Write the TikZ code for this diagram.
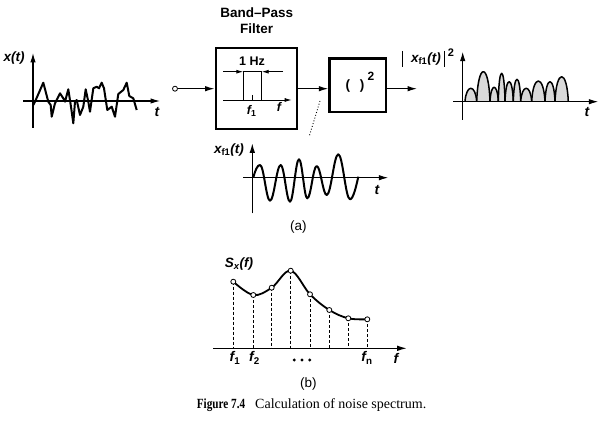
\documentclass[tikz,border=0pt]{standalone}
\usepackage{fontspec}
\usepackage{graphicx}
\setmainfont{Liberation Serif}
\newfontfamily\labfont{Liberation Sans}
\usetikzlibrary{arrows.meta}
\newcommand\mysub[1]{\textsubscript{\upshape #1}}
\begin{document}
\begin{tikzpicture}[x=1pt,y=-1pt,
  axis/.style={line width=1.1pt,-{Latex[length=9.5pt,width=5.5pt]}},
  sig/.style={line width=1.1pt,-{Latex[length=9.5pt,width=5.5pt]}},
  thinline/.style={line width=0.9pt},
  dimarrow/.style={line width=0.9pt,-{Latex[length=7pt,width=4pt]}},
  wave/.style={line width=2pt,line join=round},
  hump/.style={line width=1.5pt,fill=gray!30,line join=round},
  blk/.style={draw,line width=2.6pt,inner sep=0pt},
  lbl/.style={font=\labfont\bfseries\itshape\fontsize{13.5}{15}\selectfont,inner sep=0pt},
  ax/.style={font=\labfont\bfseries\itshape\fontsize{14}{16}\selectfont,inner sep=0pt},
  head/.style={font=\labfont\bfseries\fontsize{13.5}{16}\selectfont,inner sep=0pt,align=center},
  plainlab/.style={font=\labfont\fontsize{13.5}{16}\selectfont,inner sep=0pt},
  ptnode/.style={circle,draw,fill=white,line width=0.8pt,inner sep=0pt,minimum size=5pt},
  vdash/.style={line width=0.8pt,densely dashed},
  port/.style={circle,draw,line width=0.8pt,inner sep=0pt,minimum size=5pt}
]
\useasboundingbox (0,0) rectangle (600,422);

% ---------- panel x(t)
\coordinate (xa1) at (33,128); \coordinate (xa2) at (33,53);
\coordinate (xh1) at (23,101); \coordinate (xh2) at (160,101);
\draw[axis] (xa1) -- (xa2);
\draw[axis] (xh1) -- (xh2);
\node[lbl] (xlab) at (14,58) {x(t)};
\node[ax] (xt) at (157,112) {t};
\draw[wave] (33.3,105) -- (35,101.7) -- (43.3,82.7) -- (48.3,101.7) -- (50.7,105) -- (51.7,116.7)
 -- (55,103.3) -- (60,93.3) -- (63.3,98.3) -- (65,101.7) -- (68.3,89.3) -- (71,106.7) -- (73.3,123.3)
 -- (75,101.7) -- (76.7,100) -- (80,115) -- (83.3,106.7) -- (85.7,89.3) -- (88.3,101.7) -- (90,111.7)
 -- (93.3,88.3) -- (96.7,86.7) -- (99,88.3) -- (101.7,82.7) -- (104,88.3) -- (107.3,110) -- (111.7,106.7)
 -- (115,116.7) -- (118.3,94) -- (123.3,90) -- (126.7,82.7) -- (129.3,96) -- (133.3,98.3) -- (136.7,110);

% ---------- band-pass filter
\node[head] (bplab) at (256.7,21) {Band–Pass\\Filter};
\node[blk,minimum width=81pt,minimum height=81pt] (bpf) at (256.3,88.7) {};
\node[port] (in) at (175,88.7) {};
\draw[sig] (in) -- (bpf.west);
\node[head,font=\labfont\bfseries\fontsize{12.5}{14}\selectfont] (hz) at (252,61) {1 Hz};
\draw[dimarrow] (223.3,71.7) -- (243.3,71.7);
\draw[dimarrow] (283,71.7) -- (261.7,71.7);
\draw[thinline] (243.3,100) -- (243.3,71.7) -- (261.7,71.7) -- (261.7,100);
\draw[thinline] (252.3,95) -- (252.3,100);
\draw[dimarrow] (223.3,100) -- (291.7,100);
\node[ax,font=\labfont\bfseries\itshape\fontsize{12.5}{14}\selectfont] (f1in) at (251.7,111) {f\mysub{1}};
\node[ax,font=\labfont\bfseries\itshape\fontsize{12.5}{14}\selectfont] (fin) at (279,107) {f};

% ---------- squarer
\node[blk,minimum width=56.5pt,minimum height=53.5pt] (sq) at (357.8,85.3) {};
\node[head] (par) at (355,86) {(\ \ \,)};
\node[head,font=\labfont\bfseries\fontsize{12}{14}\selectfont] (sq2) at (371,76) {2};
\draw[sig] (bpf.east) -- (bpf.east -| sq.west);
\coordinate (out) at (417,88.7);
\draw[sig] (out -| sq.east) -- (out);
\coordinate (dot1) at (320,101); \coordinate (dot2) at (309,137);
\draw[dotted,line width=0.9pt] (dot1) -- (dot2);

% ---------- |x_f1|^2 panel
\draw[line width=0.9pt] (402.5,51) -- (402.5,67);
\draw[line width=0.9pt] (444.5,51) -- (444.5,67);
\node[lbl] (xsqlab) at (426,59) {x\mysub{f1}(t)};
\node[head,font=\labfont\bfseries\fontsize{11}{12}\selectfont] (xsq2) at (451,53) {2};
\coordinate (pa1) at (462.7,120); \coordinate (pa2) at (462.7,51.7);
\coordinate (ph1) at (453.3,101.7); \coordinate (ph2) at (598.3,101.7);
\foreach \a/\b/\p in {465/476.7/88.3, 476.7/490/71.7, 490/498.3/87.3, 498.3/505/73.3, 505/513.3/81.7,
  513.3/520.7/79.3, 520.7/531.7/88.3, 531.7/545/81, 545/555/81.7, 555/568.3/76.7}{
  \pgfmathsetmacro\cy{101.7-(101.7-\p)*4/3}
  \pgfmathsetmacro\ca{\a+0.1*(\b-\a)}
  \pgfmathsetmacro\cb{\b-0.1*(\b-\a)}
  \draw[hump] (\a,101.7) .. controls (\ca,\cy) and (\cb,\cy) .. (\b,101.7);
}
\draw[axis] (pa1) -- (pa2);
\draw[axis] (ph1) -- (ph2);
\node[ax] (pt) at (587,112) {t};

% ---------- x_f1(t) panel
\coordinate (fa1) at (252.3,213.3); \coordinate (fa2) at (252.3,143.3);
\coordinate (fh1) at (243.3,177.7); \coordinate (fh2) at (388.3,177.7);
\draw[axis] (fa1) -- (fa2);
\draw[axis] (fh1) -- (fh2);
\node[lbl] (flab) at (229,150) {x\mysub{f1}(t)};
\node[ax] (ft) at (377,190) {t};
\draw[wave] (253.3,177.7) .. controls (255.3,170) and (257.4,165) .. (260,165)
 .. controls (263.8,165) and (266.2,200.7) .. (270,200.7)
 .. controls (274.1,200.7) and (276.6,165) .. (280.7,165)
 .. controls (284.2,165) and (286.5,201.7) .. (290,201.7)
 .. controls (293.4,201.7) and (295.6,159.3) .. (299,159.3)
 .. controls (302.2,159.3) and (304.1,198.3) .. (307.3,198.3)
 .. controls (310.9,198.3) and (313.1,166) .. (316.7,166)
 .. controls (320.5,166) and (322.9,195) .. (326.7,195)
 .. controls (331.1,195) and (333.9,154.3) .. (338.3,154.3)
 .. controls (342.7,154.3) and (345.6,199.3) .. (350,199.3)
 .. controls (353.2,199.3) and (356.3,186) .. (358.3,176.7);
\node[plainlab] (a) at (298.3,227) {(a)};

% ---------- panel (b)
\coordinate (sa1) at (213.3,348.3); \coordinate (sa2) at (406.7,348.3);
\draw[axis] (sa1) -- (sa2);
\draw[line width=1.8pt] plot[smooth,tension=0.6] coordinates {(233.3,281.7) (253.3,295) (271.7,287.7) (290.7,270.7) (310,294.3) (329.3,310) (348.3,318.3) (367.3,319.3)};
\foreach \i/\x/\y in {1/233.3/281.7, 2/253.3/295, 3/271.7/287.7, 4/290.7/270.7, 5/310/294.3, 6/329.3/310, 7/348.3/318.3, 8/367.3/319.3}{
  \coordinate (b\i) at (\x,348.3);
  \draw[vdash] (\x,\y) -- (b\i);
  \node[ptnode] (p\i) at (\x,\y) {};
}
\node[lbl] (slab) at (239,264) {S\textsubscript{x}(f)};
\node[ax] (bf1) at (235,358) {f\mysub{1}};
\node[ax] (bf2) at (254.5,358) {f\mysub{2}};
\node[ax] (bfn) at (367,358) {f\mysub{n}};
\node[ax] (bf) at (396,358) {f};
\foreach \x in {294.2,302,309.8} \fill (\x,360) circle (1.6pt);
\node[plainlab] (b) at (308.3,384) {(b)};

% ---------- caption
\node[anchor=base west,inner sep=0pt,font=\bfseries\fontsize{14}{16}\selectfont] (fig) at (196.7,408.5) {\scalebox{0.8}[1]{Figure 7.4}};
\node[anchor=base west,inner sep=0pt,font=\fontsize{14}{16}\selectfont] (capt) at (255,408.5) {Calculation of noise spectrum.};
\end{tikzpicture}
\end{document}
